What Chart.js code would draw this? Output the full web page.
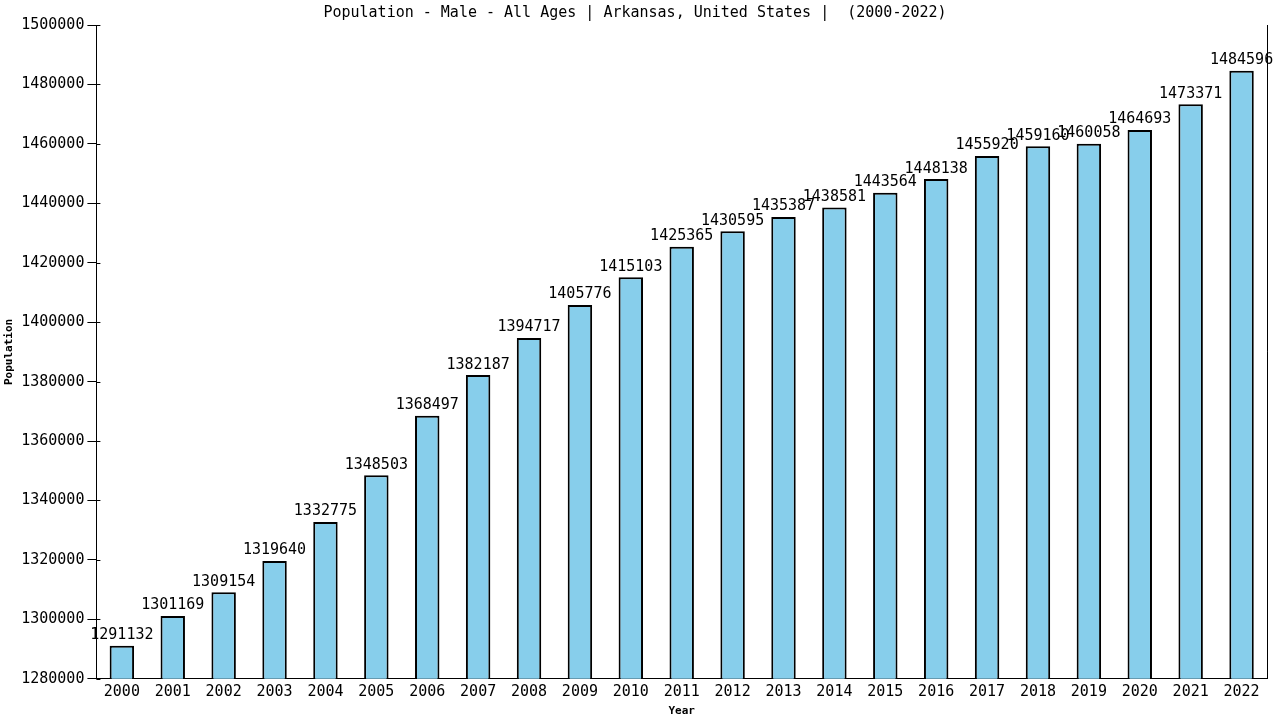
<!DOCTYPE html>
<html>
<head>
<meta charset="utf-8">
<script src="https://cdn.jsdelivr.net/npm/chart.js@4.4.0/dist/chart.umd.min.js"></script>
<style>
  html, body { margin: 0; padding: 0; background: #fff; }
  #wrap { width: 1280px; height: 720px; }
</style>
</head>
<body>
<div id="wrap"><canvas id="myChart" width="1280" height="720"></canvas></div>
<script>
var years = ['2000', '2001', '2002', '2003', '2004', '2005', '2006', '2007', '2008', '2009', '2010', '2011',
	'2012', '2013', '2014', '2015', '2016', '2017', '2018', '2019', '2020', '2021', '2022'];
var population = [1291132, 1301169, 1309154, 1319640, 1332775, 1348503, 1368497, 1382187, 1394717, 1405776,
	1415103, 1425365, 1430595, 1435387, 1438581, 1443564, 1448138, 1455920, 1459160, 1460058, 1464693, 1473371, 1484596];
var y_min = 1280000;
var y_max = 1500000;
var y_step = 20000;

var mono = "'DejaVu Sans Mono', 'Liberation Mono', monospace";

/* values above bars, inner tick stubs, right border line */
var labelPlugin = {
	id: 'barLabels',
	afterDatasetsDraw: function(chart) {
		var ctx = chart.ctx;
		var meta = chart.getDatasetMeta(0);
		var a = chart.chartArea;
		var ys = chart.scales.y;
		ctx.save();
		ctx.font = '15px ' + mono;
		ctx.fillStyle = '#000';
		ctx.textAlign = 'center';
		ctx.textBaseline = 'bottom';
		meta.data.forEach(function(bar, i) {
			ctx.fillText(String(population[i]), bar.x, bar.y - 3);
		});
		ctx.strokeStyle = '#000';
		ctx.lineWidth = 1;
		ctx.beginPath();
		ctx.moveTo(a.right + 0.5, a.top);
		ctx.lineTo(a.right + 0.5, a.bottom);
		ys.ticks.forEach(function(t) {
			var py = Math.round(ys.getPixelForValue(t.value)) + 0.5;
			ctx.moveTo(a.left, py);
			ctx.lineTo(a.left + 4, py);
		});
		ctx.stroke();
		ctx.restore();
	}
};

var ctx = document.getElementById('myChart').getContext('2d');
var graph = new Chart(ctx, {
	type: 'bar',
	data: {
		labels: years,
		datasets: [{
			label: 'Population',
			data: population,
			backgroundColor: '#87ceeb',
			borderColor: '#000',
			borderWidth: 2,
			barPercentage: 0.48,
			categoryPercentage: 1.0
		}]
	},
	plugins: [labelPlugin],
	options: {
		responsive: false,
		animation: false,
		layout: { padding: { left: 3, right: 13, top: 0, bottom: 0 } },
		plugins: {
			legend: { display: false },
			tooltip: { enabled: false },
			title: {
				display: true,
				text: 'Population - Male - All Ages | Arkansas, United States |  (2000-2022)',
				font: { family: mono, size: 15, weight: 'normal' },
				color: '#000',
				padding: { top: 4, bottom: 3 }
			}
		},
		scales: {
			x: {
				grid: { display: false, drawTicks: false },
				border: { color: '#000', width: 1 },
				ticks: { color: '#000', font: { family: mono, size: 15 }, padding: 4, maxRotation: 0 },
				title: { display: true, text: 'Year', color: '#000', font: { family: mono, size: 11, weight: 'bold' }, padding: { top: 0, bottom: 2 } }
			},
			y: {
				min: y_min,
				max: y_max,
				grid: { drawOnChartArea: false, color: '#000', tickLength: 9 },
				border: { color: '#000', width: 1 },
				ticks: {
					stepSize: y_step, color: '#000', font: { family: mono, size: 15 }, padding: 3,
					callback: function(v) { return String(v); }
				},
				title: { display: true, text: 'Population', color: '#000', font: { family: mono, size: 11, weight: 'bold' }, padding: { top: 0, bottom: 2 } }
			}
		}
	}
});
</script>
</body>
</html>
